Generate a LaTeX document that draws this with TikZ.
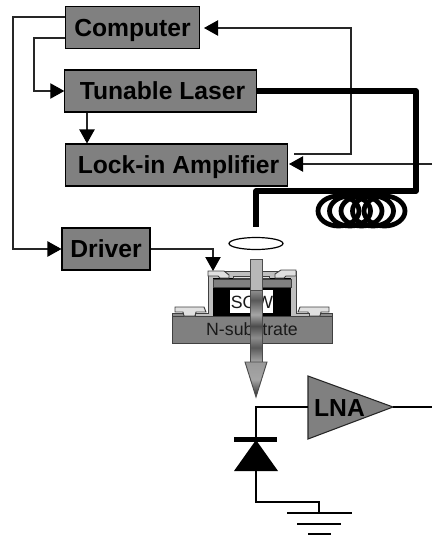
\documentclass[tikz,border=0pt]{standalone}
\usepackage{fontspec}
\setmainfont{Liberation Sans}
\usetikzlibrary{arrows.meta,calc}
\pgfdeclareverticalshading{beamstripes}{100bp}{
  color(0bp)=(black!62); color(8bp)=(black!40); color(15bp)=(black!68); color(25bp)=(black!35);
  color(35bp)=(black!65); color(42bp)=(black!45); color(50bp)=(black!70); color(58bp)=(black!35);
  color(68bp)=(black!65); color(76bp)=(black!40); color(86bp)=(black!70); color(93bp)=(black!45); color(100bp)=(black!75)}
\definecolor{boxgray}{gray}{0.5}
\tikzset{
  box/.style={draw=black,line width=.8pt,fill=boxgray,inner sep=0pt,text height=16.8pt,text depth=4pt,font=\fontsize{18.5}{20}\selectfont\bfseries},
  wire/.style={draw=black!85,line width=.8pt},
  sig/.style={wire,-{Triangle[length=10.5pt,width=11.5pt,color=black]}},
  fibre/.style={draw=black,line width=3.9pt,line join=round},
  coilring/.style={draw=black,line width=3.6pt},
  layerline/.style={draw=black!75,line width=.7pt},
  padfill/.style={layerline,fill=black!12},
  devtext/.style={inner sep=0pt,font=\fontsize{13.3}{15}\selectfont,text=black!90},
  beamline/.style={draw=black!70,line width=.7pt},
  gnd/.style={draw=black,line width=.9pt}
}
\begin{document}
\begin{tikzpicture}[x=.75pt,y=-.75pt]
\useasboundingbox (0,0) rectangle (432,535);
% boxes
\node[box,minimum width=100.5pt,minimum height=31.5pt] (comp) at (132.5,27.5) {Computer};
\node[box,minimum width=143.5pt,minimum height=31.5pt] (laser) at (160.5,91) {\hspace*{3pt}Tunable Laser};
\node[box,minimum width=167pt,minimum height=31.5pt] (lockin) at (176.5,165) {\hspace*{3pt}Lock-in Amplifier};
\node[box,minimum width=66pt,minimum height=31.5pt] (driver) at (106,249) {Driver};
% free ends
\coordinate (compA) at (65,17);
\coordinate (compB) at (65,38);
\coordinate (compIn) at (204,28);
\coordinate (lockOut) at (294,154);
\coordinate (lockIn) at (289,164);
\coordinate (rightIn) at (432,164);
\coordinate (drvTop) at (213,271);
\coordinate (fibreEnd) at (256,227);
% control wires
\draw[sig] (compA) -- (13,17) |- (driver.west);
\draw[sig] (compB) -- (34,38) |- (laser.west);
\draw[sig] (laser.south -| 87,0) -- (lockin.north -| 87,0);
\draw[sig] (lockOut) -- (351,154) |- (compIn);
\draw[sig] (rightIn) -- (lockIn);
\draw[sig] (driver.east) -| (drvTop);
% fibre
\draw[fibre] (laser.east) -- (416,91) -- (416,191) -- (256,191) -- (fibreEnd);
% coil
\foreach \cx in {338.5,350,361.5,373,384.5}
  \draw[coilring] (\cx,211) ellipse [x radius=20.5,y radius=15];
% lens
\draw[draw=black,line width=.9pt,fill=white] (256,243.5) ellipse [x radius=27,y radius=6];
% device
\fill[boxgray] (172,316) rectangle (332,343);
\draw[layerline] (172,316) rectangle (332,343);
\draw[layerline,fill=black!45] (172,313) rectangle (332,316);
\draw[padfill] (175,307) -- (204,307) -- (206,312) -- (196,312) -- (195,316) -- (184,316) -- (183,312) -- (175,312) -- cycle;
\draw[padfill] (329,307) -- (300,307) -- (298,312) -- (308,312) -- (309,316) -- (320,316) -- (321,312) -- (329,312) -- cycle;
\draw[layerline,fill=black!25] (195,313) -- (208,313) -- (208,271) -- (296,271) -- (296,313) -- (309,313) -- (309,316) -- (195,316) -- cycle;
\fill[black] (213,278) rectangle (291,316);
\draw[layerline,fill=boxgray] (213,279) rectangle (291,287);
\draw[padfill] (208,271) -- (224,271) -- (229,275) -- (229,278) -- (220,278) -- (218,276) -- (208,276) -- cycle;
\draw[padfill] (233,278) -- (233,276) -- (269,276) -- (269,278) -- cycle;
\draw[padfill] (296,270) -- (281,270) -- (275,274) -- (275,278) -- (284,278) -- (286,276) -- (296,276) -- cycle;
\fill[white] (230,290) rectangle (273,313);
\node[devtext] (sow) at (252,302) {SOW};
\node[devtext] (nsub) at (252,329) {N-substrate};
% beam arrow
\draw[beamline,shading=beamstripes] (250,290) rectangle (262,362);
\draw[beamline,fill=black!28] (250,259) rectangle (262,290);
\draw[beamline,top color=black!40,bottom color=black!85,middle color=black!35] (245,362) -- (267,362) -- (256,397) -- cycle;
% LNA
\coordinate (lnaA) at (308,376);
\coordinate (lnaB) at (308,439);
\coordinate (lnaTip) at (393,407);
\coordinate (lnaIn) at (308,407);
\coordinate (outEnd) at (432,407);
\coordinate (diodeTop) at (256,440);
\coordinate (diodeBase) at (256,471);
\coordinate (gndTop) at (319,513);
\draw[draw=black!85,line width=.8pt,fill=boxgray] (lnaA) -- (lnaTip) -- (lnaB) -- cycle;
\node[inner sep=0pt,font=\fontsize{18.5}{20}\selectfont\bfseries] (lnatext) at (339.5,408) {LNA};
\draw[gnd] (lnaTip) -- (outEnd);
\draw[gnd] (lnaIn) -- (256,407) -- (diodeTop);
\draw[gnd] (diodeBase) -- (256,502) -- (319,502) -- (gndTop);
% diode
\fill[black] (234,437) rectangle (277,442);
\fill[black] (diodeTop) -- (278,471) -- (234,471) -- cycle;
% ground
\draw[gnd] (287,513) -- (352,513);
\draw[gnd] (297,524) -- (341,524);
\draw[gnd,line width=1.4pt] (308,534) -- (331,534);
\end{tikzpicture}
\end{document}
